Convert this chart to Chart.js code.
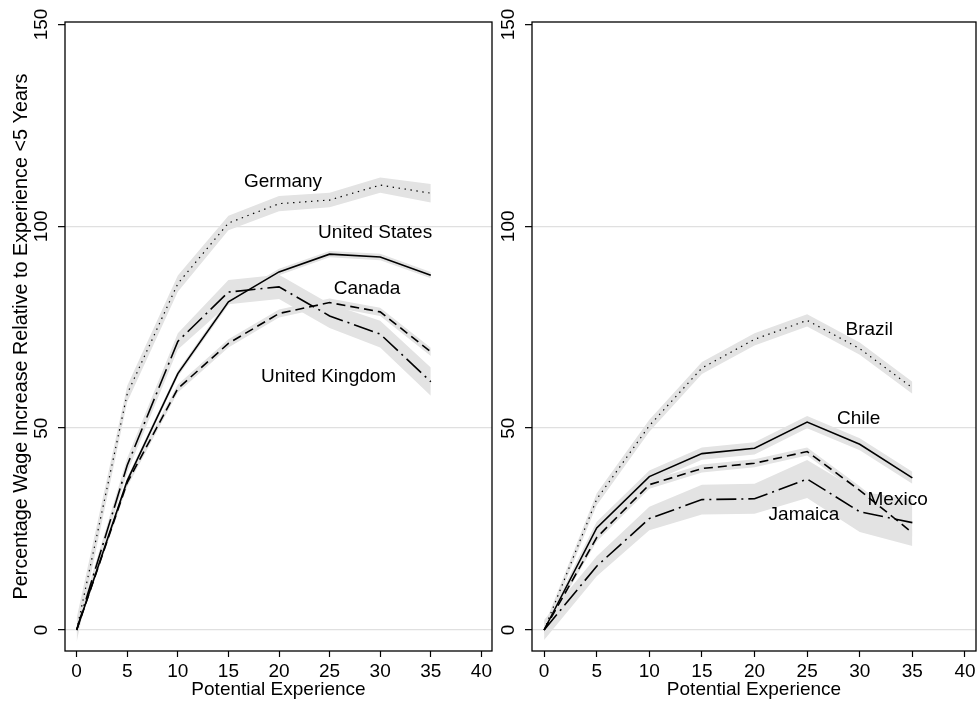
<!DOCTYPE html>
<html><head><meta charset="utf-8">
<script src="https://cdn.jsdelivr.net/npm/chart.js@4.4.1/dist/chart.umd.min.js"></script>
<style>
html,body{margin:0;padding:0;background:#fff;}
#wrap{position:relative;width:979px;height:706px;background:#fff;}
#c1{position:absolute;left:0;top:0;}
#c2{position:absolute;left:496px;top:0;}
</style></head><body>
<div id="wrap"><canvas id="c1" width="496" height="706"></canvas><canvas id="c2" width="483" height="706"></canvas></div>
<script>
// ---- data ----
const experience = [0, 5, 10, 15, 20, 25, 30, 35];
const xTicks = [0, 5, 10, 15, 20, 25, 30, 35, 40];
const yTicks = [0, 50, 100, 150];

// left panel
const germany     = [0, 58.5, 85.8, 100.8, 105.6, 106.5, 110.2, 108.2];
const germanyLo   = [-3, 56.5, 83.8, 99.0, 103.7, 104.7, 108.3, 105.9];
const germanyHi   = [3, 60.5, 87.8, 102.6, 107.5, 108.3, 112.1, 110.5];
const usa         = [0, 37.0, 63.5, 81.3, 88.7, 93.1, 92.4, 87.9];
const usaLo       = [-0.5, 36.2, 62.7, 80.5, 87.9, 92.3, 91.6, 87.1];
const usaHi       = [0.5, 37.8, 64.3, 82.1, 89.5, 93.9, 93.2, 88.7];
const uk          = [0, 40.8, 71.5, 83.7, 85.0, 77.8, 73.3, 61.5];
const ukLo        = [-1, 39.0, 69.5, 80.7, 82.0, 74.8, 70.0, 58.0];
const ukHi        = [1, 42.6, 73.5, 86.7, 88.0, 80.8, 76.6, 65.0];
const canada      = [0, 36.5, 59.8, 71.0, 78.4, 81.1, 78.8, 68.9];
const canadaLo    = [-0.5, 35.5, 58.8, 70.0, 77.4, 80.1, 77.8, 67.9];
const canadaHi    = [0.5, 37.5, 60.8, 72.0, 79.4, 82.1, 79.8, 69.9];

// right panel
const brazil      = [0, 32.4, 50.6, 64.9, 72.0, 76.7, 69.7, 60.0];
const brazilLo    = [-1, 30.9, 49.1, 63.4, 70.5, 75.2, 68.2, 58.5];
const brazilHi    = [1, 33.9, 52.1, 66.4, 73.5, 78.2, 71.2, 61.5];
const chile       = [0, 25.3, 38.0, 43.7, 45.0, 51.5, 46.0, 37.7];
const chileLo     = [-1, 23.8, 36.5, 42.2, 43.5, 50.0, 44.5, 36.2];
const chileHi     = [1, 26.8, 39.5, 45.2, 46.5, 53.0, 47.5, 39.2];
const mexico      = [0, 22.9, 36.0, 40.0, 41.3, 44.2, 34.6, 24.1];
const mexicoLo    = [-0.5, 21.9, 35.0, 39.0, 40.3, 43.2, 33.6, 23.1];
const mexicoHi    = [0.5, 23.9, 37.0, 41.0, 42.3, 45.2, 35.6, 25.1];
const jamaica     = [0, 15.8, 27.6, 32.3, 32.5, 37.4, 29.3, 26.6];
const jamaicaLo   = [-2.5, 13.3, 24.7, 28.6, 28.8, 32.7, 24.3, 20.8];
const jamaicaHi   = [2.5, 18.3, 30.5, 36.0, 36.2, 42.1, 34.3, 32.4];

// in-plot labels
const leftLabelText  = ['Germany', 'United States', 'Canada', 'United Kingdom'];
const leftLabelX     = [20.4, 29.5, 28.7, 24.9];
const leftLabelY     = [111.1, 98.5, 84.4, 62.7];
const rightLabelText = ['Brazil', 'Chile', 'Mexico', 'Jamaica'];
const rightLabelX    = [30.9, 29.9, 33.6, 24.7];
const rightLabelY    = [74.4, 52.4, 32.2, 28.5];

// ---- styling ----
const FONT = '"Liberation Sans", Arial, Helvetica, sans-serif';
const BAND = '#e3e3e3';
const STYLE = {
  dotted:  {dash: [1.4, 4.6], width: 1.2},
  solid:   {dash: [], width: 1.6},
  dashed:  {dash: [9, 5], width: 1.6},
  dashdot: {dash: [20, 5, 2, 5], width: 1.6}
};

const pts = arr => experience.map((x, i) => ({x: x, y: arr[i]}));

function buildDatasets(series) {
  const ds = [];
  series.forEach(s => {
    const st = STYLE[s.style];
    ds.push({data: pts(s.values), borderColor: '#000', borderWidth: st.width, borderDash: st.dash,
             pointRadius: 0, fill: false, tension: 0, order: 0, borderCapStyle: 'butt'});
  });
  series.forEach(s => {
    ds.push({data: pts(s.hi), borderWidth: 0, borderColor: 'rgba(0,0,0,0)', pointRadius: 0,
             fill: '+1', backgroundColor: BAND, tension: 0, order: 10});
    ds.push({data: pts(s.lo), borderWidth: 0, borderColor: 'rgba(0,0,0,0)', pointRadius: 0,
             fill: false, tension: 0, order: 10});
  });
  return ds;
}

const overlay = {
  id: 'overlay',
  afterDraw(chart, args, opts) {
    const {ctx, chartArea: a, scales} = chart;
    ctx.save();
    ctx.fillStyle = '#000';
    ctx.font = '19px ' + FONT;
    ctx.textAlign = 'center';
    ctx.textBaseline = 'middle';
    opts.text.forEach((t, i) => {
      ctx.fillText(t, scales.x.getPixelForValue(opts.xs[i]), scales.y.getPixelForValue(opts.ys[i]));
    });
    ctx.strokeStyle = '#000';
    ctx.lineWidth = 1.3;
    ctx.strokeRect(a.left, a.top, a.right - a.left, a.bottom - a.top);
    ctx.restore();
  }
};

function makeChart(id, series, lab, yTitle, yWidth, padRight) {
  return new Chart(document.getElementById(id), {
    type: 'line',
    data: {datasets: buildDatasets(series)},
    plugins: [overlay],
    options: {
      responsive: false, animation: false, devicePixelRatio: 1,
      layout: {padding: {top: 22, right: padRight, left: 0, bottom: 0}},
      plugins: {legend: {display: false}, tooltip: {enabled: false},
                overlay: lab},
      scales: {
        x: {
          type: 'linear', min: -1.15, max: 41.05,
          afterBuildTicks: s => { s.ticks = xTicks.map(v => ({value: v})); },
          afterFit: s => { s.height = 55; },
          border: {display: false},
          grid: {drawOnChartArea: false, drawTicks: true, tickLength: 6, tickColor: '#000', tickWidth: 1.2},
          ticks: {color: '#000', font: {size: 19, family: FONT}, padding: 3, maxRotation: 0, minRotation: 0, autoSkip: false},
          title: {display: true, text: 'Potential Experience', color: '#000', font: {size: 19, family: FONT},
                  padding: {top: 0, bottom: 5}}
        },
        y: {
          type: 'linear', min: -5.2, max: 150.6,
          afterBuildTicks: s => { s.ticks = yTicks.map(v => ({value: v})); },
          afterFit: s => { s.width = yWidth; },
          border: {display: false},
          grid: {color: c => (c.tick && c.tick.value === 150) ? 'rgba(0,0,0,0)' : '#e0e0e0', lineWidth: 1.3,
                 drawTicks: true, tickLength: 7, tickColor: '#000', tickWidth: 1.2},
          ticks: {color: '#000', font: {size: 19, family: FONT}, padding: 0, minRotation: 90, maxRotation: 90,
                  crossAlign: 'center', autoSkip: false},
          title: {display: !!yTitle, text: yTitle || '', color: '#000', font: {size: 19.8, family: FONT},
                  padding: {top: 10, bottom: 0}}
        }
      }
    }
  });
}

makeChart('c1', [
  {values: germany, lo: germanyLo, hi: germanyHi, style: 'dotted'},
  {values: usa, lo: usaLo, hi: usaHi, style: 'solid'},
  {values: uk, lo: ukLo, hi: ukHi, style: 'dashdot'},
  {values: canada, lo: canadaLo, hi: canadaHi, style: 'dashed'}
], {text: leftLabelText, xs: leftLabelX, ys: leftLabelY},
'Percentage Wage Increase Relative to Experience <5 Years', 65, 4);

makeChart('c2', [
  {values: brazil, lo: brazilLo, hi: brazilHi, style: 'dotted'},
  {values: chile, lo: chileLo, hi: chileHi, style: 'solid'},
  {values: jamaica, lo: jamaicaLo, hi: jamaicaHi, style: 'dashdot'},
  {values: mexico, lo: mexicoLo, hi: mexicoHi, style: 'dashed'}
], {text: rightLabelText, xs: rightLabelX, ys: rightLabelY},
null, 36, 3);
</script>
</body></html>
